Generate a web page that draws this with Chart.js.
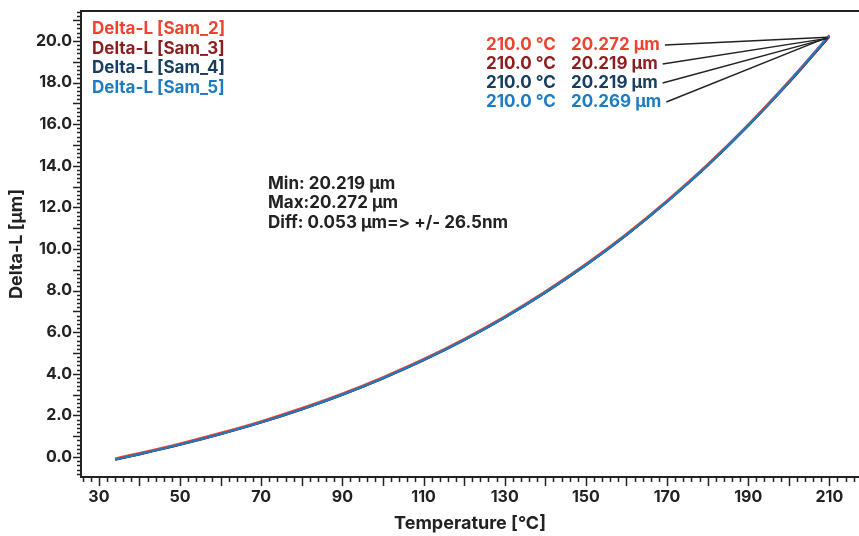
<!DOCTYPE html>
<html>
<head>
<meta charset="utf-8">
<script src="https://cdn.jsdelivr.net/npm/chart.js@4.4.1/dist/chart.umd.min.js"></script>
<style>
  html, body { margin: 0; padding: 0; background: #fff; }
  #wrap { width: 859px; height: 536px; position: relative; }
</style>
</head>
<body>
<div id="wrap"><canvas id="js-chart-delta"></canvas></div>
<script>
// Data
const temps = [34, 40, 50, 60, 70, 80, 90, 100, 110, 120, 130, 140, 150, 160, 170, 180, 190, 200, 210];
const sam2 = [-0.07, 0.19, 0.65, 1.16, 1.72, 2.35, 3.05, 3.84, 4.71, 5.68, 6.76, 7.96, 9.28, 10.73, 12.33, 14.07, 15.98, 18.06, 20.272];
const sam3 = [-0.13, 0.13, 0.59, 1.10, 1.66, 2.29, 2.99, 3.78, 4.65, 5.62, 6.70, 7.90, 9.22, 10.67, 12.27, 14.01, 15.92, 17.99, 20.219];
const sam4 = [-0.12, 0.14, 0.60, 1.11, 1.67, 2.30, 3.00, 3.79, 4.66, 5.63, 6.71, 7.91, 9.23, 10.68, 12.28, 14.02, 15.93, 18.00, 20.219];
const sam5 = [-0.12, 0.14, 0.60, 1.11, 1.67, 2.30, 3.00, 3.79, 4.66, 5.63, 6.71, 7.91, 9.23, 10.68, 12.28, 14.02, 15.93, 18.02, 20.269];

const seriesNames = ['Delta-L [Sam_2]', 'Delta-L [Sam_3]', 'Delta-L [Sam_4]', 'Delta-L [Sam_5]'];
const xTickLabels = [30, 50, 70, 90, 110, 130, 150, 170, 190, 210];
const yTickLabels = [0, 2, 4, 6, 8, 10, 12, 14, 16, 18, 20];
// ZWNJ keeps "=>" from turning into an arrow ligature
const statLines = ['Min: 20.219 µm', 'Max:20.272 µm', 'Diff: 0.053 µm=\u200C> +/- 26.5nm'];

const colors = ['#ee4330', '#8c1d1f', '#173d60', '#1b7bc3'];
const ink = '#222222';
const FONT = 'Inter, "DejaVu Sans", sans-serif';

// Tick marks, frame top line, legend and annotations
const decorations = {
  id: 'decorations',
  afterDraw(chart) {
    const ctx = chart.ctx;
    const area = chart.chartArea;
    const xs = chart.scales.x;
    const ys = chart.scales.y;
    ctx.save();
    ctx.strokeStyle = ink;

    // top frame line
    ctx.lineWidth = 2;
    ctx.beginPath();
    ctx.moveTo(area.left - 1, area.top);
    ctx.lineTo(chart.width, area.top);
    ctx.stroke();

    // x ticks: minor every 2, major every 10
    ctx.lineWidth = 1.5;
    ctx.beginPath();
    for (let v = 26; v <= xs.max; v += 2) {
      const px = Math.round(xs.getPixelForValue(v)) + 0.5;
      const len = (v % 10 === 0) ? 9 : 5;
      ctx.moveTo(px, area.bottom);
      ctx.lineTo(px, area.bottom + len);
    }
    ctx.stroke();

    // y ticks: minor every 0.2, major every 1
    ctx.beginPath();
    for (let i = -4; i * 0.2 <= ys.max; i++) {
      const py = Math.round(ys.getPixelForValue(i * 0.2)) + 0.5;
      const len = (i % 5 === 0) ? 8 : 4;
      ctx.moveTo(area.left, py);
      ctx.lineTo(area.left - len, py);
    }
    ctx.stroke();

    // legend (coloured text only)
    ctx.font = '700 17px ' + FONT;
    ctx.textBaseline = 'middle';
    ctx.textAlign = 'left';
    seriesNames.forEach((name, i) => {
      ctx.fillStyle = colors[i];
      ctx.fillText(name, 92, 29 + i * 19.5);
    });

    // stats block
    ctx.fillStyle = ink;
    ctx.font = '700 17px ' + FONT;
    statLines.forEach((line, i) => {
      ctx.fillText(line, 268, 184 + i * 19.3);
    });

    // end-point labels with leader lines
    ctx.font = '700 17px ' + FONT;
    seriesNames.forEach((name, i) => {
      const ds = chart.data.datasets.find(d => d.label === name);
      const last = ds.data[ds.data.length - 1];
      const rowY = 45 + i * 19;
      ctx.fillStyle = colors[i];
      ctx.fillText(last.x.toFixed(1) + ' °C', 486, rowY);
      const txt = last.y.toFixed(3) + ' µm';
      ctx.fillText(txt, 571, rowY);
      const w = ctx.measureText(txt).width;
      ctx.strokeStyle = ink;
      ctx.lineWidth = 1.4;
      ctx.beginPath();
      ctx.moveTo(571 + w + 5, rowY);
      ctx.lineTo(xs.getPixelForValue(last.x) - 2, ys.getPixelForValue(last.y) + 2);
      ctx.stroke();
    });
    ctx.restore();
  }
};

function makeSet(label, data, color) {
  return {
    label: label,
    data: data.map((v, i) => ({ x: temps[i], y: v })),
    borderColor: color,
    backgroundColor: color,
    borderWidth: 2.2,
    pointRadius: 0,
    cubicInterpolationMode: 'monotone',
    fill: false
  };
}

new Chart(document.getElementById('js-chart-delta'), {
  type: 'line',
  data: {
    // draw order: Sam_5, Sam_3, Sam_2, Sam_4 on top
    datasets: [
      makeSet(seriesNames[3], sam5, colors[3]),
      makeSet(seriesNames[1], sam3, colors[1]),
      makeSet(seriesNames[0], sam2, colors[0]),
      makeSet(seriesNames[2], sam4, colors[2])
    ]
  },
  options: {
    responsive: true,
    maintainAspectRatio: false,
    animation: false,
    layout: { padding: { top: 11, right: 0, left: 0, bottom: 0 } },
    scales: {
      x: {
        type: 'linear',
        min: 25.6,
        max: 217.3,
        afterBuildTicks: scale => { scale.ticks = xTickLabels.map(v => ({ value: v })); },
        afterFit: scale => { scale.height = 59; scale.paddingLeft = 0; scale.paddingRight = 0; },
        grid: { display: true, drawOnChartArea: false, drawTicks: false },
        border: { display: true, color: ink, width: 2 },
        ticks: {
          color: ink,
          padding: 11,
          maxRotation: 0,
          autoSkip: false,
          font: { family: FONT, size: 16, weight: '700' },
          callback: v => String(v)
        },
        title: {
          display: true,
          text: 'Temperature [°C]',
          color: ink,
          padding: { top: 0, bottom: 2 },
          font: { family: FONT, size: 18, weight: '700' }
        }
      },
      y: {
        type: 'linear',
        min: -0.96,
        max: 21.44,
        afterBuildTicks: scale => { scale.ticks = yTickLabels.map(v => ({ value: v })); },
        afterFit: scale => { scale.width = 81; scale.paddingTop = 0; scale.paddingBottom = 0; },
        grid: { display: true, drawOnChartArea: false, drawTicks: false },
        border: { display: true, color: ink, width: 2 },
        ticks: {
          color: ink,
          padding: 9,
          autoSkip: false,
          font: { family: FONT, size: 16, weight: '700' },
          callback: v => Number(v).toFixed(1)
        },
        title: {
          display: true,
          text: 'Delta-L [µm]',
          color: ink,
          padding: { top: 6, bottom: 0 },
          font: { family: FONT, size: 18, weight: '700' }
        }
      }
    },
    plugins: {
      legend: { display: false },
      tooltip: { enabled: false }
    }
  },
  plugins: [decorations]
});
</script>
</body>
</html>
